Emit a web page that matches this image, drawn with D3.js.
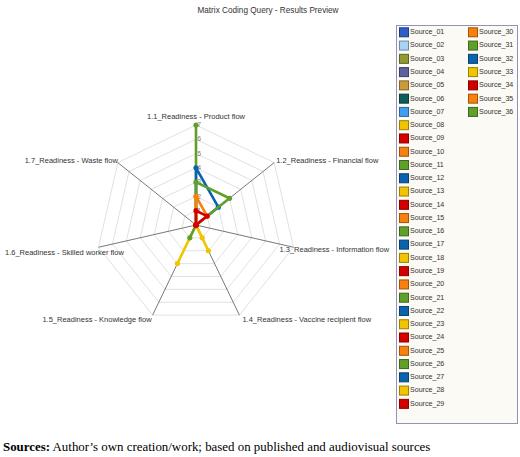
<!DOCTYPE html>
<html><head><meta charset="utf-8">
<script src="https://cdn.jsdelivr.net/npm/d3@7"></script>
<style>body{margin:0;background:#fff;}svg{display:block;}</style>
</head><body>
<script>
const title = "Matrix Coding Query - Results Preview";
const axes = ["1.1_Readiness - Product flow","1.2_Readiness - Financial flow","1.3_Readiness - Information flow","1.4_Readiness - Vaccine recipient flow","1.5_Readiness - Knowledge flow","1.6_Readiness - Skilled worker flow","1.7_Readiness - Waste flow"];
const ticks = [1,2,3,4,5,6,7];
const sources = d3.range(1,37).map(i => "Source_" + String(i).padStart(2,"0"));
const colors = ["#2f5fc6","#a9d3f5","#8f9a30","#5d5fa0","#c99b3b","#0c5d5b","#3f9ff0",
  "#f0c400","#d40000","#f7800f","#5f9f2a","#0b63ae",
  "#f0c400","#d40000","#f7800f","#5f9f2a","#0b63ae",
  "#f0c400","#d40000","#f7800f","#5f9f2a","#0b63ae",
  "#f0c400","#d40000","#f7800f","#5f9f2a","#0b63ae",
  "#f0c400","#d40000","#f7800f","#5f9f2a","#0b63ae",
  "#f0c400","#d40000","#f7800f","#5f9f2a"];
// values per source on axes 1.1 .. 1.7 (only non-zero sources listed)
const nonZero = {
  "Source_11": [7,0,0,0,0,0,0],
  "Source_12": [4,2,0,0,0,0,0],
  "Source_13": [0,0,0,0,3,0,0],
  "Source_16": [3,3,0,0,0,0,0],
  "Source_18": [0,0,0,2,0,0,0],
  "Source_21": [0,0,0,0,1,0,0],
  "Source_23": [0,0,0,1,0,0,0],
  "Source_28": [2,0,0,0,0,0,0],
  "Source_30": [2,1,0,0,0,0,0],
  "Source_34": [1,1,0,0,0,0,0]
};
const caption = ["Sources:", " Author\u2019s own creation/work; based on published and audiovisual sources"];

const W = 520, H = 457;
const svg = d3.select("body").append("svg").attr("width", W).attr("height", H);
const cx = 196, cy = 225, R = 100;
const r = d3.scaleLinear().domain([0, 7]).range([0, R]);
const ang = d3.scaleLinear().domain([0, axes.length]).range([-Math.PI/2, 1.5*Math.PI]);
const pt = (i, v) => [cx + r(v)*Math.cos(ang(i)), cy + r(v)*Math.sin(ang(i))];

svg.append("text").attr("x", 268).attr("y", 13).attr("text-anchor","middle")
  .attr("font-family","Liberation Sans, Arial, sans-serif").attr("font-size", 8.2).attr("fill","#333").text(title);

const g = svg.append("g");
// grid rings
ticks.forEach(t => {
  g.append("path").attr("d", d3.line()(axes.map((a,i)=>pt(i,t)).concat([pt(0,t)])))
    .attr("fill","none").attr("stroke","#d9d9d9").attr("stroke-width",0.8);
});
// axis lines
axes.forEach((a,i) => {
  const p = pt(i, 7);
  g.append("line").attr("x1",cx).attr("y1",cy).attr("x2",p[0]).attr("y2",p[1])
    .attr("stroke","#555").attr("stroke-width",0.8);
});
// axis labels (offset layout)
const lab = [
  {dx:0, dy:-8, anchor:"middle"},
  {dx:2, dy:-2, anchor:"start"},
  {dx:-14, dy:3, anchor:"start"},
  {dx:3, dy:5, anchor:"start"},
  {dx:-1, dy:5, anchor:"end"},
  {dx:null, dy:6, anchor:"start"},
  {dx:0, dy:-2, anchor:"end"}
];
axes.forEach((a,i) => {
  const p = pt(i, 7), L = lab[i];
  g.append("text").attr("x", L.dx === null ? 5 : p[0]+L.dx).attr("y", p[1]+L.dy)
    .attr("text-anchor", L.anchor).attr("dominant-baseline","middle")
    .attr("font-family","Liberation Sans, Arial, sans-serif").attr("font-size",7.5).attr("fill","#333").text(a);
});
// tick labels
ticks.forEach(t => {
  const p = pt(0, t);
  g.append("text").attr("x", p[0]+1.5).attr("y", p[1]+0.5).attr("dominant-baseline","middle")
    .attr("font-family","Liberation Sans, Arial, sans-serif").attr("font-size",6.3).attr("fill","#777").text(t);
});
// series: all-zero sources first, then sources with values (so they sit on top)
const order = sources.map((s, si) => si)
  .sort((a, b) => ((nonZero[sources[a]] ? 1 : 0) - (nonZero[sources[b]] ? 1 : 0)) || (a - b));
order.forEach(si => {
  const s = sources[si];
  const vals = nonZero[s] || axes.map(() => 0);
  const pts = vals.map((v,i) => pt(i, v));
  g.append("path").attr("d", d3.line()(pts.concat([pts[0]])))
    .attr("fill","none").attr("stroke", colors[si]).attr("stroke-width",2.6).attr("stroke-linejoin","round");
  g.selectAll(null).data(pts).enter().append("circle")
    .attr("cx", d=>d[0]).attr("cy", d=>d[1]).attr("r", 2.6).attr("fill", colors[si]);
});

// legend
const lx = 396, ly = 25, lw = 121, lh = 398;
svg.append("rect").attr("x",lx+0.5).attr("y",ly+0.5).attr("width",lw).attr("height",lh)
  .attr("fill","#fcfaf5").attr("stroke","#9591bd").attr("stroke-width",1);
const perCol = 29, rowH = 13.27;
sources.forEach((s, si) => {
  const col = Math.floor(si / perCol), row = si % perCol;
  const x = lx + 3 + col*69, y = ly + 7.3 + row*rowH;
  const c = colors[si];
  svg.append("rect").attr("x", x+0.5).attr("y", y-4.5).attr("width", 9).attr("height", 9)
    .attr("fill", c).attr("stroke", d3.color(c).darker(1.2)).attr("stroke-width",1);
  svg.append("text").attr("x", x+11).attr("y", y).attr("dominant-baseline","middle")
    .attr("font-family","Liberation Sans, Arial, sans-serif").attr("font-size",7.1).attr("fill","#333").text(s);
});

// caption
const cap = svg.append("text").attr("x", 3).attr("y", 451)
  .attr("font-family","Liberation Serif, Times New Roman, serif").attr("font-size", 12.9).attr("fill","#000");
cap.append("tspan").attr("font-weight","bold").text(caption[0]);
cap.append("tspan").text(caption[1]);
</script>
</body></html>
